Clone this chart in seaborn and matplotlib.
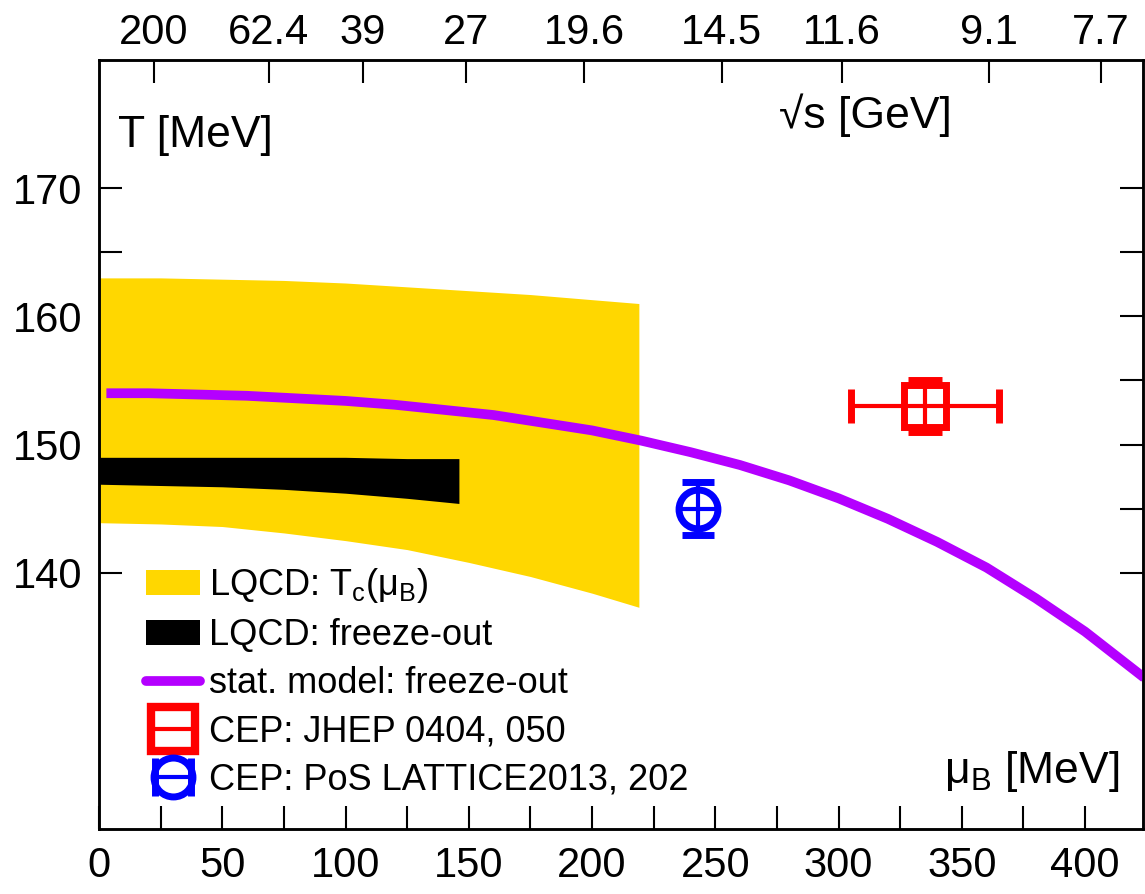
import numpy as np
import matplotlib
matplotlib.use("Agg")
import matplotlib.pyplot as plt
import seaborn as sns
from matplotlib.patches import Patch
from matplotlib.lines import Line2D

# --- data -------------------------------------------------------------
# LQCD crossover band T_c(mu_B)
band_mu = [0, 25, 50, 75, 100, 125, 150, 175, 200, 219]
band_hi = [163.0, 163.0, 162.9, 162.8, 162.6, 162.3, 162.0, 161.7, 161.3, 161.0]
band_lo = [143.9, 143.8, 143.6, 143.1, 142.5, 141.8, 140.8, 139.7, 138.4, 137.3]

# LQCD freeze-out band
fo_mu = [0, 25, 50, 75, 100, 125, 146]
fo_hi = [149.0, 149.0, 149.0, 149.0, 149.0, 148.9, 148.9]
fo_lo = [146.9, 146.8, 146.7, 146.5, 146.2, 145.8, 145.4]

# statistical-model freeze-out curve
stat_mu = [3, 20, 40, 60, 80, 100, 120, 140, 160, 180, 200, 220, 240, 260,
           280, 300, 320, 340, 360, 380, 400, 424]
stat_T = [154.0, 154.0, 153.9, 153.8, 153.6, 153.4, 153.1, 152.7, 152.3,
          151.7, 151.1, 150.3, 149.4, 148.4, 147.2, 145.8, 144.2, 142.4,
          140.4, 138.0, 135.4, 131.8]

# critical end point estimates
cep_jhep = dict(mu=335, T=153.0, dmu=30, dT=2.0)
cep_pos = dict(mu=243, T=145.0, dmu=9, dT=2.1)

# collision energies on the top axis and their mu_B positions
sqrts_lbl = ["200", "62.4", "39", "27", "19.6", "14.5", "11.6", "9.1", "7.7"]
sqrts_mu = [22.3, 68.9, 106.9, 149.0, 196.8, 252.6, 301.2, 361.1, 406.3]

x_major = [0, 50, 100, 150, 200, 250, 300, 350, 400]
x_minor = [25, 75, 125, 175, 225, 275, 325, 375]
y_major = [140, 150, 160, 170]
y_minor = [145, 155, 165]

# --- style ------------------------------------------------------------
sns.set_theme(style="ticks", rc={"axes.edgecolor": "black",
                                 "xtick.color": "black", "ytick.color": "black",
                                 "text.color": "black", "axes.labelcolor": "black"})
plt.rcParams["font.family"] = ["Liberation Sans", "DejaVu Sans"]
plt.rcParams["mathtext.fontset"] = "custom"
plt.rcParams["mathtext.rm"] = "Liberation Sans"
plt.rcParams["mathtext.it"] = "Liberation Sans:italic"

W, H = 1145, 894
fig = plt.figure(figsize=(W / 100, H / 100), dpi=100)
L, R, T, B = 99, 1143, 60, 829
ax = fig.add_axes([L / W, 1 - B / H, (R - L) / W, (B - T) / H])

gold = "#ffd700"
violet = "#b400ff"

ax.fill_between(band_mu, band_lo, band_hi, color=gold, lw=0, zorder=1)
ax.fill_between(fo_mu, fo_lo, fo_hi, color="black", lw=0, zorder=2)
sns.lineplot(x=stat_mu, y=stat_T, color=violet, lw=7, ax=ax, zorder=3,
             sort=False, solid_capstyle="butt", solid_joinstyle="round")

ax.errorbar(cep_jhep["mu"], cep_jhep["T"], xerr=cep_jhep["dmu"],
            yerr=cep_jhep["dT"], fmt="s", ms=30, mfc="none", mec="red",
            mew=5, ecolor="red", elinewidth=3, capsize=12, capthick=4,
            zorder=4)
# horizontal bar across the blue circle (no caps), then the capped T error
ax.errorbar(cep_pos["mu"], cep_pos["T"], xerr=cep_pos["dmu"], fmt="none",
            ecolor="blue", elinewidth=3, capsize=0, zorder=4)
ax.errorbar(cep_pos["mu"], cep_pos["T"], yerr=cep_pos["dT"],
            fmt="o", ms=28, mfc="none", mec="blue", mew=5,
            ecolor="blue", elinewidth=3, capsize=11.5, capthick=5,
            zorder=4)

# legend symbols: open markers with a horizontal bar
leg_red = ax.errorbar([np.nan], [np.nan], xerr=[1.0], fmt="s", ms=31,
                      mfc="none", mec="red", mew=6, ecolor="red",
                      elinewidth=3, capsize=0)
leg_blue = ax.errorbar([np.nan], [np.nan], xerr=[1.0], fmt="o", ms=28,
                       mfc="none", mec="blue", mew=5, ecolor="blue",
                       elinewidth=3, capsize=14, capthick=6)

ax.set_xlim(0, 423.5)
ax.set_ylim(120, 180)
ax.set_xticks(x_major)
ax.set_xticks(x_minor, minor=True)
ax.set_yticks(y_major)
ax.set_yticks(y_minor, minor=True)
ax.tick_params(which="both", direction="in", length=16.5, width=1.5,
               labelsize=30, top=False, right=True, bottom=True, left=True)
ax.tick_params(axis="x", pad=12)
ax.tick_params(axis="y", pad=12)
for s in ax.spines.values():
    s.set_linewidth(1.8)
    s.set_color("black")

top = ax.twiny()
top.set_xlim(ax.get_xlim())
top.set_xticks(sqrts_mu)
top.set_xticklabels(sqrts_lbl)
top.tick_params(axis="x", which="major", direction="in", length=16.5,
                width=1.5, labelsize=30, pad=5)
top.tick_params(axis="x", which="minor", length=0)
for s in top.spines.values():
    s.set_linewidth(1.8)
    s.set_color("black")

ax.text(7.7, 174.1, "T [MeV]", fontsize=32, ha="left", va="center")
ax.text(276, 175.7, "\u221as [GeV]", fontsize=32, ha="left", va="center",
        family=["Liberation Sans", "DejaVu Sans"])
ax.text(414, 124.5, "\u03bc$_{\\rm B}$ [MeV]", fontsize=32, ha="right",
        va="center")

handles = [Patch(facecolor=gold, edgecolor="none"),
           Patch(facecolor="black", edgecolor="none"),
           Line2D([], [], color=violet, lw=7),
           leg_red, leg_blue]
labels = ["LQCD: T$_{\\rm c}$(\u03bc$_{\\rm B}$)", "LQCD: freeze-out",
          "stat. model: freeze-out", "CEP: JHEP 0404, 050",
          "CEP: PoS LATTICE2013, 202"]
ax.legend(handles, labels, loc="lower left", bbox_to_anchor=(0.045, 0.041),
          frameon=False, fontsize=26, handlelength=1.5, handleheight=0.7,
          handletextpad=0.25, labelspacing=0.36, borderpad=0, borderaxespad=0)

fig.savefig("out.png", dpi=100)
